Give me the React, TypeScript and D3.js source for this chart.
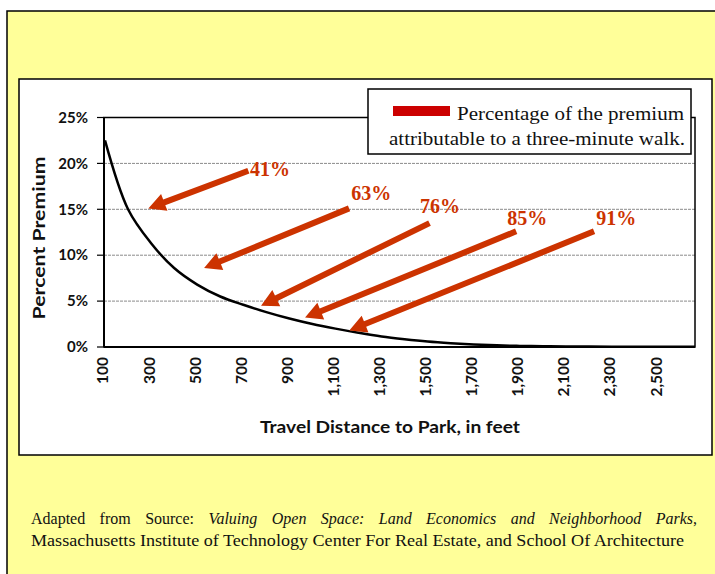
import React, { useLayoutEffect, useRef } from 'react';
import * as d3 from 'd3';

// travel distance (feet) and premium (%)
const distances = [100, 200, 300, 400, 500, 600, 700, 800, 900, 1000, 1100, 1200, 1300, 1400,
  1500, 1600, 1700, 1800, 1900, 2000, 2100, 2200, 2300, 2400, 2500, 2600, 2660];
const premiums = [22.5, 15.0, 11.3, 8.6, 6.8, 5.5, 4.6, 3.8, 3.1, 2.5, 2.0, 1.55, 1.15, 0.85,
  0.6, 0.42, 0.28, 0.18, 0.12, 0.08, 0.06, 0.05, 0.04, 0.03, 0.02, 0.02, 0.02];

const xTickValues = [100, 300, 500, 700, 900, 1100, 1300, 1500, 1700, 1900, 2100, 2300, 2500];
const xTickLabels = ['100', '300', '500', '700', '900', '1,100', '1,300', '1,500', '1,700', '1,900', '2,100', '2,300', '2,500'];
const yTickValues = [0, 5, 10, 15, 20, 25];

// arrow annotations, in data units (feet, %)
const arrowLabels = ['41%', '63%', '76%', '85%', '91%'];
const arrowTails = [[722, 19.2], [1159, 15.1], [1508, 13.5], [1884, 12.6], [2222, 12.6]];
const arrowTips = [[288, 15.1], [530, 8.6], [777, 4.5], [968, 3.2], [1160, 1.8]];
const arrowLabelAt = [[729, 18.6], [1168, 16.0], [1467, 14.6], [1845, 13.3], [2231, 13.3]];

const legendLines = ['Percentage of the premium', 'attributable to a three-minute walk.'];

const W = 715;
const H = 574;
const plot = { left: 104, right: 695, top: 117.5, bottom: 347 };

const x = d3.scaleLinear().domain([100, 2660]).range([105, 695]);
const y = d3.scaleLinear().domain([0, 25]).range([plot.bottom, plot.top]);

const ARROW = '#cc3300';
const AXIS_FONT = 'Lato, "Open Sans", sans-serif';
const SERIF = '"Liberation Serif", "DejaVu Serif", serif';

function arrowPath(tail: number[], tip: number[]) {
  const x0 = x(tail[0]), y0 = y(tail[1]);
  const x1 = x(tip[0]), y1 = y(tip[1]);
  const len = Math.hypot(x1 - x0, y1 - y0);
  const ux = (x1 - x0) / len, uy = (y1 - y0) / len;
  const nx = -uy, ny = ux;
  const sw = 3, hw = 9, hl = 17;
  const bx = x1 - ux * hl, by = y1 - uy * hl;
  const pts = [
    [x0 + nx * sw, y0 + ny * sw],
    [bx + nx * sw, by + ny * sw],
    [bx + nx * hw, by + ny * hw],
    [x1, y1],
    [bx - nx * hw, by - ny * hw],
    [bx - nx * sw, by - ny * sw],
    [x0 - nx * sw, y0 - ny * sw],
  ];
  return 'M' + pts.map((p) => p.join(',')).join('L') + 'Z';
}

export default function App() {
  const captionRef = useRef<SVGTextElement>(null);

  // justify the first caption line by widening the word gaps
  useLayoutEffect(() => {
    const el = captionRef.current;
    if (!el) return;
    el.setAttribute('word-spacing', '0');
    const natural = el.getComputedTextLength();
    const gaps = (el.textContent || '').split(' ').length - 1;
    const target = 666;
    if (gaps > 0) el.setAttribute('word-spacing', String((target - natural) / gaps));
  }, []);

  const line = d3.line<number>()
    .x((_, i) => x(distances[i]))
    .y((d) => y(d))
    .curve(d3.curveCatmullRom.alpha(0.5));

  return (
    <div style={{ position: 'absolute', left: 0, top: 0 }}>
      <svg width={W} height={H} style={{ display: 'block' }}>
        <rect x={0} y={0} width={W} height={H} fill="#fff" />
        <rect x={7} y={11} width={720} height={580} fill="#ffff99" stroke="#000" strokeWidth={1.5} />
        <rect x={19} y={79} width={693} height={376} fill="#fff" stroke="#000" strokeWidth={1.5} />

        {/* gridlines */}
        {yTickValues.filter((v) => v > 0 && v < 25).map((v) => (
          <line key={'g' + v} x1={plot.left} x2={plot.right} y1={y(v)} y2={y(v)}
            stroke="#8a8a8a" strokeWidth={1} strokeDasharray="3,1" />
        ))}

        {/* frame */}
        <rect x={plot.left} y={plot.top} width={plot.right - plot.left} height={plot.bottom - plot.top}
          fill="none" stroke="#000" strokeWidth={1.5} />
        <line x1={plot.left} x2={plot.right} y1={plot.bottom} y2={plot.bottom} stroke="#000" strokeWidth={2} />
        <line x1={plot.left} x2={plot.left} y1={plot.top} y2={plot.bottom} stroke="#000" strokeWidth={2} />

        {/* y ticks */}
        {yTickValues.map((v) => (
          <g key={'y' + v}>
            <line x1={97} x2={plot.left} y1={y(v)} y2={y(v)} stroke="#000" strokeWidth={1.2} />
            <text x={88} y={y(v)} dy="0.35em" textAnchor="end" fontFamily={AXIS_FONT}
              fontWeight="bold" fontSize={15} fill="#111">{v}%</text>
          </g>
        ))}

        {/* x tick labels */}
        {xTickValues.map((v, i) => (
          <text key={'x' + v} transform={`translate(${x(v) - 2},357) rotate(-90)`} dy="0.35em"
            textAnchor="end" fontFamily={AXIS_FONT} fontWeight="bold" fontSize={15.5} fill="#111">
            {xTickLabels[i]}
          </text>
        ))}

        <text transform="translate(45,238) rotate(-90)" textAnchor="middle" fontFamily={AXIS_FONT}
          fontWeight="bold" fontSize={17} fill="#111" textLength={163} lengthAdjust="spacingAndGlyphs">
          Percent Premium
        </text>
        <text x={260} y={433} fontFamily={AXIS_FONT} fontWeight="bold" fontSize={17} fill="#111"
          textLength={260} lengthAdjust="spacingAndGlyphs">
          Travel Distance to Park, in feet
        </text>

        {/* curve */}
        <path d={line(premiums) || ''} fill="none" stroke="#000" strokeWidth={2.5} strokeLinejoin="round" />

        {/* arrows */}
        {arrowLabels.map((lab, i) => (
          <g key={lab}>
            <path d={arrowPath(arrowTails[i], arrowTips[i])} fill={ARROW} />
            <text x={x(arrowLabelAt[i][0])} y={y(arrowLabelAt[i][1])} fontFamily={SERIF}
              fontWeight="bold" fontSize={20} fill={ARROW}>{lab}</text>
          </g>
        ))}

        {/* legend */}
        <rect x={368} y={89} width={323} height={65} fill="#fff" stroke="#000" strokeWidth={1.5} />
        <rect x={393} y={106} width={57} height={10} fill="#cc0000" />
        <text x={457} y={120} fontFamily={SERIF} fontSize={19} fill="#111"
          textLength={227} lengthAdjust="spacingAndGlyphs">{legendLines[0]}</text>
        <text x={389} y={145} fontFamily={SERIF} fontSize={19} fill="#111"
          textLength={296} lengthAdjust="spacingAndGlyphs">{legendLines[1]}</text>

        {/* caption */}
        <text ref={captionRef} x={31} y={524} fontFamily={SERIF} fontSize={16} fill="#111">
          Adapted from Source: <tspan fontStyle="italic">Valuing Open Space: Land Economics and Neighborhood Parks</tspan>,
        </text>
        <text x={31} y={546} fontFamily={SERIF} fontSize={16} fill="#111"
          textLength={653} lengthAdjust="spacingAndGlyphs">
          Massachusetts Institute of Technology Center For Real Estate, and School Of Architecture
        </text>
      </svg>
    </div>
  );
}
